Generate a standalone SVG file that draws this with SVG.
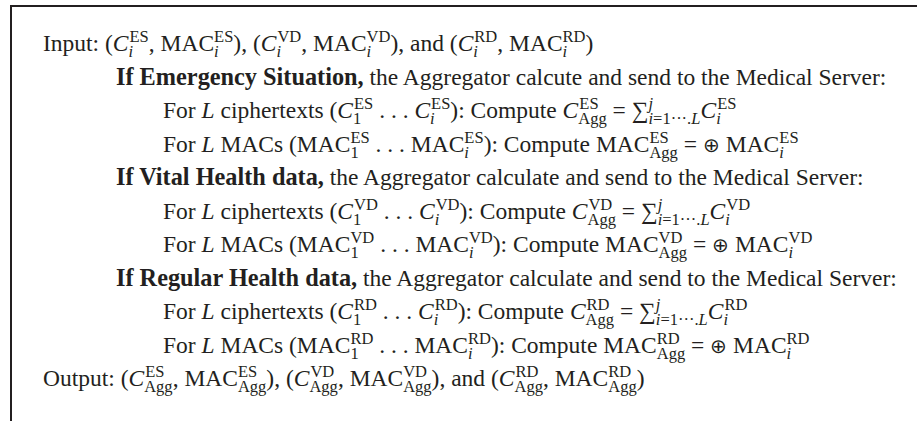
<svg xmlns="http://www.w3.org/2000/svg" width="917" height="421" viewBox="0 0 917 421">
<style>
.t{font-family:"Liberation Serif","Times New Roman",serif;font-size:23.5px;fill:#231f20}
.it{font-style:italic}
.b{font-weight:bold;font-size:24.3px}
.s{font-size:16.5px}
.op{font-size:20px}
.frame{fill:none;stroke:#231f20;stroke-width:2}
</style>
<rect width="917" height="421" fill="#ffffff"/>
<g id="frame"><path class="frame" d="M11 421V6H917"/></g>
<g id="input"><text class="t" x="43" y="51">Input: (<tspan class="it">C</tspan><tspan class="s" dx="1" dy="-9.5">ES</tspan><tspan class="s it" dx="-20.26" dy="15">i</tspan><tspan dx="15.67" dy="-5.5">, MAC</tspan><tspan class="s" dy="-9.5">ES</tspan><tspan class="s it" dx="-19.26" dy="15">i</tspan><tspan dx="14.67" dy="-5.5">), (</tspan><tspan class="it">C</tspan><tspan class="s" dx="1" dy="-9.5">VD</tspan><tspan class="s it" dx="-24.83" dy="15">i</tspan><tspan dx="20.24" dy="-5.5">, MAC</tspan><tspan class="s" dy="-9.5">VD</tspan><tspan class="s it" dx="-23.83" dy="15">i</tspan><tspan dx="19.24" dy="-5.5">), and (</tspan><tspan class="it">C</tspan><tspan class="s" dx="1" dy="-9.5">RD</tspan><tspan class="s it" dx="-23.92" dy="15">i</tspan><tspan dx="19.33" dy="-5.5">, MAC</tspan><tspan class="s" dy="-9.5">RD</tspan><tspan class="s it" dx="-22.92" dy="15">i</tspan><tspan dx="18.33" dy="-5.5">)</tspan></text></g>
<g id="es">
<text class="t" x="116" y="85"><tspan class="b">If Emergency Situation,</tspan> the Aggregator calcute and send to the Medical Server:</text>
<text class="t" x="163" y="118">For <tspan class="it">L</tspan> ciphertexts (<tspan class="it">C</tspan><tspan class="s" dx="1" dy="-9.5">ES</tspan><tspan class="s" dx="-20.26" dy="15">1</tspan><tspan dx="12.01" dy="-5.5"> . . . </tspan><tspan class="it">C</tspan><tspan class="s" dx="1" dy="-9.5">ES</tspan><tspan class="s it" dx="-20.26" dy="15">i</tspan><tspan dx="15.67" dy="-5.5">): Compute </tspan><tspan class="it">C</tspan><tspan class="s" dx="1" dy="-9.5">ES</tspan><tspan class="s" dx="-20.26" dy="15">Agg</tspan><tspan dy="-5.5"> = ∑</tspan><tspan class="s it" dy="-9.5">j</tspan><tspan class="s" dx="-4.59" dy="15"><tspan class="it">i</tspan>=1···.<tspan class="it">L</tspan></tspan><tspan class="it" dy="-5.5">C</tspan><tspan class="s" dx="1" dy="-9.5">ES</tspan><tspan class="s it" dx="-20.26" dy="15">i</tspan></text>
<text class="t" x="163" y="152">For <tspan class="it">L</tspan> MACs (MAC<tspan class="s" dy="-9.5">ES</tspan><tspan class="s" dx="-19.26" dy="15">1</tspan><tspan dx="11.01" dy="-5.5"> . . . MAC</tspan><tspan class="s" dy="-9.5">ES</tspan><tspan class="s it" dx="-19.26" dy="15">i</tspan><tspan dx="14.67" dy="-5.5">): Compute MAC</tspan><tspan class="s" dy="-9.5">ES</tspan><tspan class="s" dx="-19.26" dy="15">Agg</tspan><tspan dy="-5.5"> = <tspan class="op">⊕</tspan> MAC</tspan><tspan class="s" dy="-9.5">ES</tspan><tspan class="s it" dx="-19.26" dy="15">i</tspan></text>
</g>
<g id="vd">
<text class="t" x="116" y="185"><tspan class="b">If Vital Health data,</tspan> the Aggregator calculate and send to the Medical Server:</text>
<text class="t" x="163" y="219">For <tspan class="it">L</tspan> ciphertexts (<tspan class="it">C</tspan><tspan class="s" dx="1" dy="-9.5">VD</tspan><tspan class="s" dx="-24.83" dy="15">1</tspan><tspan dx="16.58" dy="-5.5"> . . . </tspan><tspan class="it">C</tspan><tspan class="s" dx="1" dy="-9.5">VD</tspan><tspan class="s it" dx="-24.83" dy="15">i</tspan><tspan dx="20.24" dy="-5.5">): Compute </tspan><tspan class="it">C</tspan><tspan class="s" dx="1" dy="-9.5">VD</tspan><tspan class="s" dx="-24.83" dy="15">Agg</tspan><tspan dy="-5.5"> = ∑</tspan><tspan class="s it" dy="-9.5">j</tspan><tspan class="s" dx="-4.59" dy="15"><tspan class="it">i</tspan>=1···.<tspan class="it">L</tspan></tspan><tspan class="it" dy="-5.5">C</tspan><tspan class="s" dx="1" dy="-9.5">VD</tspan><tspan class="s it" dx="-24.83" dy="15">i</tspan></text>
<text class="t" x="163" y="252">For <tspan class="it">L</tspan> MACs (MAC<tspan class="s" dy="-9.5">VD</tspan><tspan class="s" dx="-23.83" dy="15">1</tspan><tspan dx="15.58" dy="-5.5"> . . . MAC</tspan><tspan class="s" dy="-9.5">VD</tspan><tspan class="s it" dx="-23.83" dy="15">i</tspan><tspan dx="19.24" dy="-5.5">): Compute MAC</tspan><tspan class="s" dy="-9.5">VD</tspan><tspan class="s" dx="-23.83" dy="15">Agg</tspan><tspan dy="-5.5"> = <tspan class="op">⊕</tspan> MAC</tspan><tspan class="s" dy="-9.5">VD</tspan><tspan class="s it" dx="-23.83" dy="15">i</tspan></text>
</g>
<g id="rd">
<text class="t" x="116" y="286"><tspan class="b">If Regular Health data,</tspan> the Aggregator calculate and send to the Medical Server:</text>
<text class="t" x="163" y="319">For <tspan class="it">L</tspan> ciphertexts (<tspan class="it">C</tspan><tspan class="s" dx="1" dy="-9.5">RD</tspan><tspan class="s" dx="-23.92" dy="15">1</tspan><tspan dx="15.67" dy="-5.5"> . . . </tspan><tspan class="it">C</tspan><tspan class="s" dx="1" dy="-9.5">RD</tspan><tspan class="s it" dx="-23.92" dy="15">i</tspan><tspan dx="19.33" dy="-5.5">): Compute </tspan><tspan class="it">C</tspan><tspan class="s" dx="1" dy="-9.5">RD</tspan><tspan class="s" dx="-23.92" dy="15">Agg</tspan><tspan dy="-5.5"> = ∑</tspan><tspan class="s it" dy="-9.5">j</tspan><tspan class="s" dx="-4.59" dy="15"><tspan class="it">i</tspan>=1···.<tspan class="it">L</tspan></tspan><tspan class="it" dy="-5.5">C</tspan><tspan class="s" dx="1" dy="-9.5">RD</tspan><tspan class="s it" dx="-23.92" dy="15">i</tspan></text>
<text class="t" x="163" y="353">For <tspan class="it">L</tspan> MACs (MAC<tspan class="s" dy="-9.5">RD</tspan><tspan class="s" dx="-22.92" dy="15">1</tspan><tspan dx="14.67" dy="-5.5"> . . . MAC</tspan><tspan class="s" dy="-9.5">RD</tspan><tspan class="s it" dx="-22.92" dy="15">i</tspan><tspan dx="18.33" dy="-5.5">): Compute MAC</tspan><tspan class="s" dy="-9.5">RD</tspan><tspan class="s" dx="-22.92" dy="15">Agg</tspan><tspan dy="-5.5"> = <tspan class="op">⊕</tspan> MAC</tspan><tspan class="s" dy="-9.5">RD</tspan><tspan class="s it" dx="-22.92" dy="15">i</tspan></text>
</g>
<g id="output"><text class="t" x="43" y="386">Output: (<tspan class="it">C</tspan><tspan class="s" dx="1" dy="-9.5">ES</tspan><tspan class="s" dx="-20.26" dy="15">Agg</tspan><tspan dy="-5.5">, MAC</tspan><tspan class="s" dy="-9.5">ES</tspan><tspan class="s" dx="-19.26" dy="15">Agg</tspan><tspan dy="-5.5">), (</tspan><tspan class="it">C</tspan><tspan class="s" dx="1" dy="-9.5">VD</tspan><tspan class="s" dx="-24.83" dy="15">Agg</tspan><tspan dy="-5.5">, MAC</tspan><tspan class="s" dy="-9.5">VD</tspan><tspan class="s" dx="-23.83" dy="15">Agg</tspan><tspan dy="-5.5">), and (</tspan><tspan class="it">C</tspan><tspan class="s" dx="1" dy="-9.5">RD</tspan><tspan class="s" dx="-23.92" dy="15">Agg</tspan><tspan dy="-5.5">, MAC</tspan><tspan class="s" dy="-9.5">RD</tspan><tspan class="s" dx="-22.92" dy="15">Agg</tspan><tspan dy="-5.5">)</tspan></text></g>
</svg>
